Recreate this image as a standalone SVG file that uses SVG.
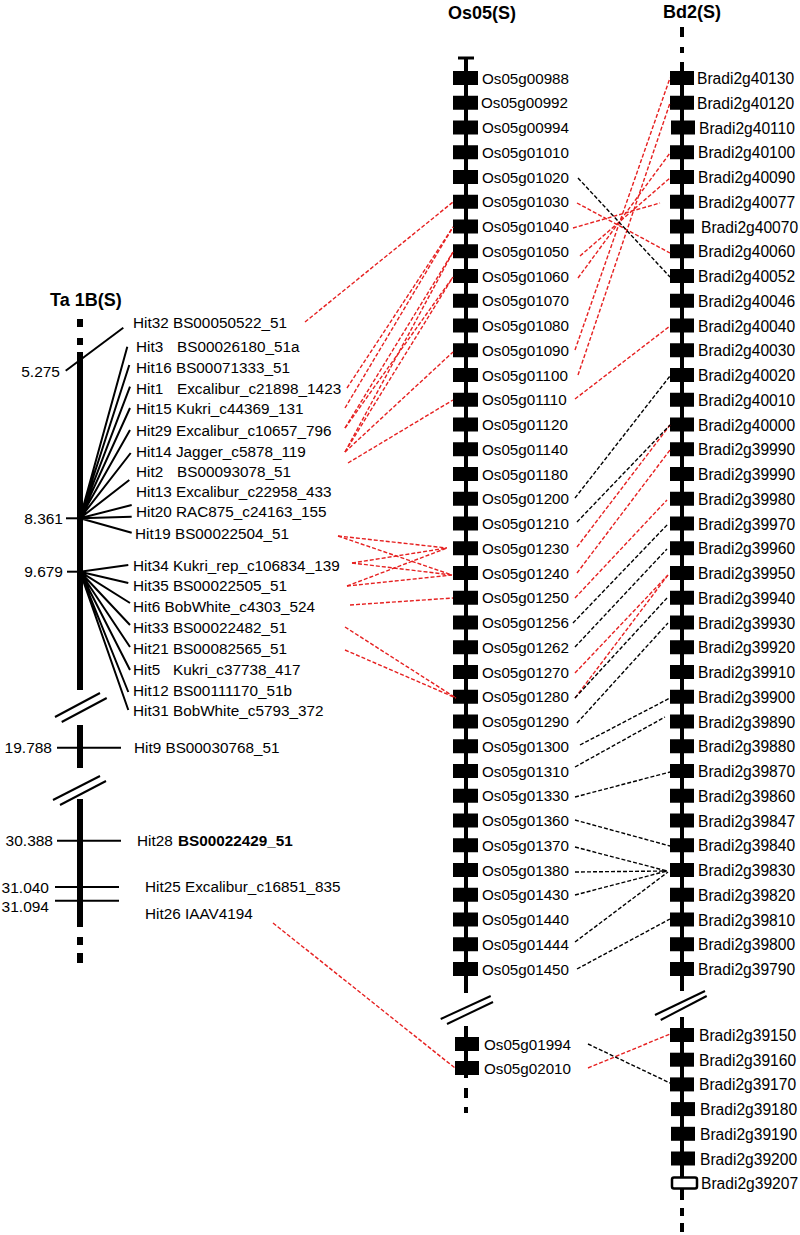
<svg xmlns="http://www.w3.org/2000/svg" width="800" height="1235" viewBox="0 0 800 1235">
<style>
text{font-family:"Liberation Sans",Arial,sans-serif;fill:#000}
.l{font-size:15.3px}
.n{font-size:15.5px;text-anchor:end}
.o{font-size:15.2px}
.b{font-size:15.6px}
.t{font-size:18px;font-weight:bold}
.chr{stroke:#000;fill:none}
.tk{stroke:#000;stroke-width:2;fill:none}
.bx{fill:#000}
.red{stroke:#e62020;stroke-width:1.4;stroke-dasharray:4 2;fill:none}
.blk{stroke:#000;stroke-width:1.4;stroke-dasharray:4 2;fill:none}
</style>

<g id="ta1b">
<text class="t" x="50" y="306">Ta 1B(S)</text>
<g class="chr" stroke-width="6">
<line x1="80" y1="319" x2="80" y2="327"/>
<line x1="80" y1="338" x2="80" y2="345"/>
<line x1="80" y1="352" x2="80" y2="690"/>
<line x1="80" y1="725" x2="80" y2="768"/>
<line x1="80" y1="799" x2="80" y2="927"/>
<line x1="80" y1="937" x2="80" y2="945"/>
<line x1="80" y1="953" x2="80" y2="963"/>
</g>
<g class="tk" stroke-width="3">
<line x1="55" y1="717" x2="100" y2="693"/>
<line x1="61.7" y1="722" x2="106.7" y2="698"/>
<line x1="53" y1="800" x2="100" y2="776"/>
<line x1="60" y1="805" x2="106" y2="781"/>
</g>
<g class="tk">
<line x1="65.7" y1="370.7" x2="123.3" y2="327.7"/>
<line x1="66" y1="518.3" x2="80" y2="518.3"/>
<line x1="67" y1="571.7" x2="80" y2="571.7"/>
<line x1="57" y1="747.7" x2="121" y2="747.7"/>
<line x1="57" y1="840.7" x2="121" y2="840.7"/>
<line x1="55" y1="887" x2="119" y2="887"/>
<line x1="55" y1="900.7" x2="119" y2="900.7"/>
<path d="M80 518.3L127.3 346.7M80 518.3L129.3 365M80 518.3L130 386.7M80 518.3L130 408M80 518.3L130 430M80 518.3L130.7 453M80 518.3L129.3 480M80 518.3L131.7 505M80 518.3L131.7 516.7M80 518.3L131.7 532.7"/>
<path d="M80 571.7L128.3 565M80 571.7L128.3 583M80 571.7L130 603M80 571.7L130 625M80 571.7L130 647M80 571.7L130 670M80 571.7L128.3 692M80 571.7L128.3 710"/>
</g>
<text class="n" x="60" y="376.5">5.275</text>
<text class="n" x="63" y="523.5">8.361</text>
<text class="n" x="63" y="577">9.679</text>
<text class="n" x="52" y="753">19.788</text>
<text class="n" x="53" y="846">30.388</text>
<text class="n" x="49" y="892.5">31.040</text>
<text class="n" x="49" y="911.5">31.094</text>
</g>

<g id="ta-labels">
<text class="l" x="133" y="328.2">Hit32 BS00050522_51</text>
<text class="l" x="136" y="352.2">Hit3<tspan x="177">BS00026180_51a</tspan></text>
<text class="l" x="136" y="372.5">Hit16 BS00071333_51</text>
<text class="l" x="136" y="393.5">Hit1<tspan x="177">Excalibur_c21898_1423</tspan></text>
<text class="l" x="136" y="413.5">Hit15 Kukri_c44369_131</text>
<text class="l" x="136" y="436.2">Hit29 Excalibur_c10657_796</text>
<text class="l" x="136" y="457.2">Hit14 Jagger_c5878_119</text>
<text class="l" x="136" y="477.2">Hit2<tspan x="177">BS00093078_51</tspan></text>
<text class="l" x="136" y="497.2">Hit13 Excalibur_c22958_433</text>
<text class="l" x="136" y="517.2">Hit20 RAC875_c24163_155</text>
<text class="l" x="135" y="538.5">Hit19 BS00022504_51</text>
<text class="l" x="133" y="570.5">Hit34 Kukri_rep_c106834_139</text>
<text class="l" x="133" y="591.2">Hit35 BS00022505_51</text>
<text class="l" x="133" y="612.2">Hit6 BobWhite_c4303_524</text>
<text class="l" x="133" y="632.5">Hit33 BS00022482_51</text>
<text class="l" x="133" y="653.5">Hit21 BS00082565_51</text>
<text class="l" x="133" y="674.5">Hit5<tspan x="173">Kukri_c37738_417</tspan></text>
<text class="l" x="133" y="696.2">Hit12 BS00111170_51b</text>
<text class="l" x="133" y="716.2">Hit31 BobWhite_c5793_372</text>
<text class="l" x="134" y="752.5">Hit9 BS00030768_51</text>
<text class="l" x="137" y="845.5">Hit28 <tspan x="178" font-weight="bold">BS00022429_51</tspan></text>
<text class="l" x="145" y="891.5">Hit25 Excalibur_c16851_835</text>
<text class="l" x="145" y="918.5">Hit26 IAAV4194</text>
</g>

<g id="os05">
<text class="t" x="448" y="19">Os05(S)</text>
<g class="chr" stroke-width="4">
<line x1="466" y1="58" x2="466" y2="993"/>
<line x1="458" y1="58" x2="474" y2="58" stroke-width="3"/>
<line x1="466" y1="1026" x2="466" y2="1078"/>
<line x1="466" y1="1088" x2="466" y2="1098"/>
<line x1="466" y1="1107" x2="466" y2="1113"/>
</g>
<g class="tk" stroke-width="3">
<line x1="440.7" y1="1019" x2="490.7" y2="996"/>
<line x1="447" y1="1024" x2="493" y2="1002"/>
</g>
<g class="bx">
<rect x="453" y="71" width="25" height="14"/><rect x="453" y="95.75" width="25" height="14"/><rect x="453" y="120.5" width="25" height="14"/><rect x="453" y="145.25" width="25" height="14"/><rect x="453" y="170" width="25" height="14"/><rect x="453" y="194.75" width="25" height="14"/><rect x="453" y="219.5" width="25" height="14"/><rect x="453" y="244.25" width="25" height="14"/><rect x="453" y="269" width="25" height="14"/><rect x="453" y="293.75" width="25" height="14"/><rect x="453" y="318.5" width="25" height="14"/><rect x="453" y="343.25" width="25" height="14"/><rect x="453" y="368" width="25" height="14"/><rect x="453" y="392.75" width="25" height="14"/><rect x="453" y="417.5" width="25" height="14"/><rect x="453" y="442.25" width="25" height="14"/><rect x="453" y="467" width="25" height="14"/><rect x="453" y="491.75" width="25" height="14"/><rect x="453" y="516.5" width="25" height="14"/><rect x="453" y="541.25" width="25" height="14"/><rect x="453" y="566" width="25" height="14"/><rect x="453" y="590.75" width="25" height="14"/><rect x="453" y="615.5" width="25" height="14"/><rect x="453" y="640.25" width="25" height="14"/><rect x="453" y="665" width="25" height="14"/><rect x="453" y="689.75" width="25" height="14"/><rect x="453" y="714.5" width="25" height="14"/><rect x="453" y="739.25" width="25" height="14"/><rect x="453" y="764" width="25" height="14"/><rect x="453" y="788.75" width="25" height="14"/><rect x="453" y="813.5" width="25" height="14"/><rect x="453" y="838.25" width="25" height="14"/><rect x="453" y="863" width="25" height="14"/><rect x="453" y="887.75" width="25" height="14"/><rect x="453" y="912.5" width="25" height="14"/><rect x="453" y="937.25" width="25" height="14"/><rect x="453" y="962" width="25" height="14"/>
<rect x="455" y="1037" width="24" height="14"/><rect x="455" y="1061" width="24" height="14"/>
</g>
<text class="o" x="482" y="83.5">Os05g00988</text>
<text class="o" x="481" y="108.25">Os05g00992</text>
<text class="o" x="482" y="133">Os05g00994</text>
<text class="o" x="482" y="157.75">Os05g01010</text>
<text class="o" x="482" y="182.5">Os05g01020</text>
<text class="o" x="482" y="207.25">Os05g01030</text>
<text class="o" x="482" y="232">Os05g01040</text>
<text class="o" x="482" y="256.75">Os05g01050</text>
<text class="o" x="482" y="281.5">Os05g01060</text>
<text class="o" x="482" y="306.25">Os05g01070</text>
<text class="o" x="482" y="331">Os05g01080</text>
<text class="o" x="482" y="355.75">Os05g01090</text>
<text class="o" x="482" y="380.5">Os05g01100</text>
<text class="o" x="482" y="405.25">Os05g01110</text>
<text class="o" x="482" y="430">Os05g01120</text>
<text class="o" x="482" y="454.75">Os05g01140</text>
<text class="o" x="482" y="479.5">Os05g01180</text>
<text class="o" x="482" y="504.25">Os05g01200</text>
<text class="o" x="482" y="529">Os05g01210</text>
<text class="o" x="482" y="553.75">Os05g01230</text>
<text class="o" x="482" y="578.5">Os05g01240</text>
<text class="o" x="482" y="603.25">Os05g01250</text>
<text class="o" x="482" y="628">Os05g01256</text>
<text class="o" x="482" y="652.75">Os05g01262</text>
<text class="o" x="482" y="677.5">Os05g01270</text>
<text class="o" x="482" y="702.25">Os05g01280</text>
<text class="o" x="482" y="727">Os05g01290</text>
<text class="o" x="482" y="751.75">Os05g01300</text>
<text class="o" x="482" y="776.5">Os05g01310</text>
<text class="o" x="482" y="801.25">Os05g01330</text>
<text class="o" x="482" y="826">Os05g01360</text>
<text class="o" x="482" y="850.75">Os05g01370</text>
<text class="o" x="482" y="875.5">Os05g01380</text>
<text class="o" x="482" y="900.25">Os05g01430</text>
<text class="o" x="482" y="925">Os05g01440</text>
<text class="o" x="482" y="949.75">Os05g01444</text>
<text class="o" x="482" y="974.5">Os05g01450</text>
<text class="o" x="484" y="1049.5">Os05g01994</text>
<text class="o" x="484" y="1073.5">Os05g02010</text>
</g>

<g id="bd2">
<text class="t" x="663" y="18">Bd2(S)</text>
<g class="chr" stroke-width="4">
<line x1="682" y1="27" x2="682" y2="37"/>
<line x1="682" y1="47" x2="682" y2="53"/>
<line x1="682" y1="62" x2="682" y2="991"/>
<line x1="682" y1="1017" x2="682" y2="1200"/>
<line x1="682" y1="1208" x2="682" y2="1216"/>
<line x1="682" y1="1223" x2="682" y2="1232"/>
</g>
<g class="tk" stroke-width="3">
<line x1="655" y1="1015" x2="705" y2="991"/>
<line x1="660.7" y1="1020" x2="706.7" y2="996"/>
</g>
<g class="bx">
<rect x="670" y="71" width="24" height="14"/><rect x="670" y="95.75" width="24" height="14"/><rect x="671" y="120.5" width="24" height="14"/><rect x="670" y="145.25" width="24" height="14"/><rect x="670" y="170" width="24" height="14"/><rect x="670" y="194.75" width="24" height="14"/><rect x="670" y="219.5" width="24" height="14"/><rect x="670" y="244.25" width="24" height="14"/><rect x="670" y="269" width="24" height="14"/><rect x="670" y="293.75" width="24" height="14"/><rect x="670" y="318.5" width="24" height="14"/><rect x="670" y="343.25" width="24" height="14"/><rect x="670" y="368" width="24" height="14"/><rect x="670" y="392.75" width="24" height="14"/><rect x="670" y="417.5" width="24" height="14"/><rect x="670" y="442.25" width="24" height="14"/><rect x="670" y="467" width="24" height="14"/><rect x="670" y="491.75" width="24" height="14"/><rect x="670" y="516.5" width="24" height="14"/><rect x="670" y="541.25" width="24" height="14"/><rect x="670" y="566" width="24" height="14"/><rect x="670" y="590.75" width="24" height="14"/><rect x="670" y="615.5" width="24" height="14"/><rect x="670" y="640.25" width="24" height="14"/><rect x="670" y="665" width="24" height="14"/><rect x="670" y="689.75" width="24" height="14"/><rect x="670" y="714.5" width="24" height="14"/><rect x="670" y="739.25" width="24" height="14"/><rect x="670" y="764" width="24" height="14"/><rect x="670" y="788.75" width="24" height="14"/><rect x="670" y="813.5" width="24" height="14"/><rect x="670" y="838.25" width="24" height="14"/><rect x="670" y="863" width="24" height="14"/><rect x="670" y="887.75" width="24" height="14"/><rect x="670" y="912.5" width="24" height="14"/><rect x="670" y="937.25" width="24" height="14"/><rect x="670" y="962" width="24" height="14"/>
<rect x="670" y="1028" width="24" height="14"/><rect x="670" y="1052.7" width="24" height="14"/><rect x="670" y="1077.4" width="24" height="14"/><rect x="671" y="1102.1" width="24" height="14"/><rect x="671" y="1126.8" width="24" height="14"/><rect x="671" y="1151.5" width="24" height="14"/>
</g>
<rect x="672" y="1177.5" width="25" height="11" rx="2" fill="#fff" stroke="#000" stroke-width="2.5"/>
<text class="b" x="697" y="84">Bradi2g40130</text>
<text class="b" x="697" y="108.75">Bradi2g40120</text>
<text class="b" x="699" y="133.5">Bradi2g40110</text>
<text class="b" x="698" y="158.25">Bradi2g40100</text>
<text class="b" x="698" y="183">Bradi2g40090</text>
<text class="b" x="698" y="207.75">Bradi2g40077</text>
<text class="b" x="701" y="232.5">Bradi2g40070</text>
<text class="b" x="698" y="257.25">Bradi2g40060</text>
<text class="b" x="698" y="282">Bradi2g40052</text>
<text class="b" x="698" y="306.75">Bradi2g40046</text>
<text class="b" x="698" y="331.5">Bradi2g40040</text>
<text class="b" x="698" y="356.25">Bradi2g40030</text>
<text class="b" x="698" y="381">Bradi2g40020</text>
<text class="b" x="698" y="405.75">Bradi2g40010</text>
<text class="b" x="698" y="430.5">Bradi2g40000</text>
<text class="b" x="698" y="455.25">Bradi2g39990</text>
<text class="b" x="698" y="480">Bradi2g39990</text>
<text class="b" x="698" y="504.75">Bradi2g39980</text>
<text class="b" x="698" y="529.5">Bradi2g39970</text>
<text class="b" x="698" y="554.25">Bradi2g39960</text>
<text class="b" x="698" y="579">Bradi2g39950</text>
<text class="b" x="698" y="603.75">Bradi2g39940</text>
<text class="b" x="698" y="628.5">Bradi2g39930</text>
<text class="b" x="698" y="653.25">Bradi2g39920</text>
<text class="b" x="698" y="678">Bradi2g39910</text>
<text class="b" x="698" y="702.75">Bradi2g39900</text>
<text class="b" x="698" y="727.5">Bradi2g39890</text>
<text class="b" x="698" y="752.25">Bradi2g39880</text>
<text class="b" x="698" y="777">Bradi2g39870</text>
<text class="b" x="698" y="801.75">Bradi2g39860</text>
<text class="b" x="698" y="826.5">Bradi2g39847</text>
<text class="b" x="698" y="851.25">Bradi2g39840</text>
<text class="b" x="698" y="876">Bradi2g39830</text>
<text class="b" x="698" y="900.75">Bradi2g39820</text>
<text class="b" x="698" y="925.5">Bradi2g39810</text>
<text class="b" x="698" y="950.25">Bradi2g39800</text>
<text class="b" x="698" y="975">Bradi2g39790</text>
<text class="b" x="699" y="1041">Bradi2g39150</text>
<text class="b" x="699" y="1065.7">Bradi2g39160</text>
<text class="b" x="699" y="1090.4">Bradi2g39170</text>
<text class="b" x="700" y="1115.1">Bradi2g39180</text>
<text class="b" x="700" y="1139.8">Bradi2g39190</text>
<text class="b" x="700" y="1164.5">Bradi2g39200</text>
<text class="b" x="701" y="1189.2">Bradi2g39207</text>
</g>

<g id="connectors">
<g class="red">
<path d="M305 322L453 202"/>
<path d="M347 388L453 227"/>
<path d="M345 408L453 227"/>
<path d="M345 428L453 252"/>
<path d="M345 428L453 277"/>
<path d="M345 452L453 252"/>
<path d="M345 452L453 277"/>
<path d="M345 452L453 352"/>
<path d="M348 463L453 400"/>
<path d="M338 536L447 548"/>
<path d="M338 536L452 575"/>
<path d="M352 563L447 548"/>
<path d="M352 563L452 575"/>
<path d="M347 586L447 548"/>
<path d="M347 586L452 575"/>
<path d="M350 605L453 598"/>
<path d="M345 627L456 698"/>
<path d="M345 650L456 698"/>
<path d="M273 923L455 1068"/>
<path d="M577 203L670 253"/>
<path d="M573 228L660 203"/>
<path d="M580 256L670 178"/>
<path d="M578 278L670 153"/>
<path d="M575 350L670 78"/>
<path d="M578 375L670 103"/>
<path d="M575 399L670 326"/>
<path d="M577 547L670 425"/>
<path d="M577 573L670 450"/>
<path d="M575 598L667 500"/>
<path d="M575 673L668 575"/>
<path d="M575 698L668 575"/>
<path d="M588 1068L670 1034"/>
</g>
<g class="blk">
<path d="M578 178L670 277"/>
<path d="M575 498L670 376"/>
<path d="M577 522L670 425"/>
<path d="M573 623L668 524"/>
<path d="M575 647L667 549"/>
<path d="M575 698L667 598"/>
<path d="M577 723L668 623"/>
<path d="M580 745L670 698"/>
<path d="M575 767L665 717"/>
<path d="M575 797L670 772"/>
<path d="M575 820L670 846"/>
<path d="M575 847L667 871"/>
<path d="M575 872L667 871"/>
<path d="M575 895L667 871"/>
<path d="M575 942L668 872"/>
<path d="M577 969L670 919"/>
<path d="M588 1044L670 1083"/>
</g>
</g>
</svg>
